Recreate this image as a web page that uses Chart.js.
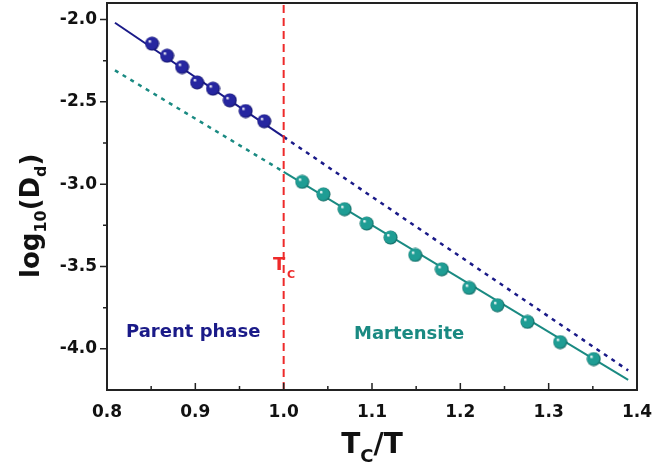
<!DOCTYPE html>
<html>
<head>
<meta charset="utf-8">
<script src="https://cdn.jsdelivr.net/npm/chart.js@4.4.0/dist/chart.umd.min.js"></script>
<style>
  body { margin: 0; background: #fff; }
  #wrap { width: 665px; height: 470px; position: relative; }
</style>
</head>
<body>
<div id="wrap"><canvas id="chart"></canvas></div>
<script>
// pontos medidos - fase mae (parent) e martensita
var parentX = [0.851, 0.868, 0.885, 0.902, 0.920, 0.939, 0.957, 0.978];
var parentY = [-2.147, -2.220, -2.289, -2.382, -2.420, -2.491, -2.556, -2.618];
var martX = [1.021, 1.045, 1.069, 1.094, 1.121, 1.149, 1.179, 1.210, 1.242, 1.276, 1.313, 1.351];
var martY = [-2.986, -3.062, -3.152, -3.239, -3.324, -3.430, -3.517, -3.630, -3.735, -3.836, -3.959, -4.062];

// retas de ajuste (solida) e extrapolacao (tracejada)
var parentFitX = [0.809, 1.0];
var parentFitY = [-2.020, -2.713];
var parentExtX = [1.0, 1.39];
var parentExtY = [-2.713, -4.131];
var martFitX = [1.0, 1.39];
var martFitY = [-2.925, -4.188];
var martExtX = [0.809, 1.0];
var martExtY = [-2.309, -2.925];

// linha Tc
var tcX = [1.0, 1.0];
var tcY = [-4.25, -1.9];

var xTicks = [0.8, 0.9, 1.0, 1.1, 1.2, 1.3, 1.4];
var yTicks = [-4.0, -3.5, -3.0, -2.5, -2.0];

var navy = '#1a1a88';
var teal = '#1a8a82';
var red = '#ee2a2a';

function pts(xs, ys) {
  var out = [];
  for (var i = 0; i < xs.length; i++) out.push({ x: xs[i], y: ys[i] });
  return out;
}

// bolinha com brilho
function esfera(cor, escuro) {
  var c = document.createElement('canvas');
  c.width = 15; c.height = 15;
  var g = c.getContext('2d');
  var grad = g.createRadialGradient(5, 5, 0.5, 7.5, 7.5, 7.5);
  grad.addColorStop(0, '#ffffff');
  grad.addColorStop(0.2, cor);
  grad.addColorStop(0.75, cor);
  grad.addColorStop(1, escuro);
  g.fillStyle = grad;
  g.beginPath();
  g.arc(7.5, 7.5, 7, 0, Math.PI * 2);
  g.fill();
  return c;
}

var bolaAzul = esfera('#2626a0', '#0c0c55');
var bolaVerde = esfera('#1f9d94', '#0b524d');

// eixos, ticks, textos
var extras = {
  id: 'extras',
  afterLayout: function (chart) {
    // topo da area do grafico colado em cima
    var ys = chart.scales.y;
    chart.chartArea.top = 3;
    ys.top = 3;
    ys.height = ys.bottom - ys.top;
    ys.configure();
  },
  afterDraw: function (chart) {
    var ctx = chart.ctx;
    var a = chart.chartArea;
    var xs = chart.scales.x;
    var ys = chart.scales.y;
    ctx.save();
    ctx.strokeStyle = '#222';
    ctx.lineWidth = 2;
    ctx.strokeRect(a.left, a.top, a.right - a.left, a.bottom - a.top);

    ctx.lineWidth = 1.5;
    ctx.beginPath();
    for (var i = 0; i < xTicks.length; i++) {
      var px = xs.getPixelForValue(xTicks[i]);
      ctx.moveTo(px, a.bottom); ctx.lineTo(px, a.bottom - 7);
      if (i < xTicks.length - 1) {
        var pm = xs.getPixelForValue((xTicks[i] + xTicks[i + 1]) / 2);
        ctx.moveTo(pm, a.bottom); ctx.lineTo(pm, a.bottom - 4);
      }
    }
    for (var j = 0; j < yTicks.length; j++) {
      var py = ys.getPixelForValue(yTicks[j]);
      ctx.moveTo(a.left, py); ctx.lineTo(a.left - 7, py);
      var vm = yTicks[j] - 0.25;
      if (vm > ys.min) {
        var pym = ys.getPixelForValue(vm);
        ctx.moveTo(a.left, pym); ctx.lineTo(a.left - 4, pym);
      }
    }
    var vt = yTicks[yTicks.length - 1] + 0.25;
    if (vt < ys.max) {
      var pyt = ys.getPixelForValue(vt);
      ctx.moveTo(a.left, pyt); ctx.lineTo(a.left - 4, pyt);
    }
    ctx.stroke();

    // titulo eixo x: T_C/T
    ctx.fillStyle = '#111';
    ctx.textBaseline = 'alphabetic';
    ctx.font = 'bold 28px "DejaVu Sans"';
    var w1 = ctx.measureText('T').width;
    ctx.font = 'bold 18px "DejaVu Sans"';
    var w2 = ctx.measureText('C').width;
    ctx.font = 'bold 28px "DejaVu Sans"';
    var w3 = ctx.measureText('/T').width;
    var x0 = 372 - (w1 + w2 + w3) / 2;
    ctx.fillText('T', x0, 453);
    ctx.font = 'bold 18px "DejaVu Sans"';
    ctx.fillText('C', x0 + w1, 462);
    ctx.font = 'bold 28px "DejaVu Sans"';
    ctx.fillText('/T', x0 + w1 + w2, 453);

    // titulo eixo y: log10(Dd)
    ctx.save();
    ctx.translate(39, 278);
    ctx.rotate(-Math.PI / 2);
    var partes = [['log', 26, 0], ['10', 16, 7], ['(D', 26, 0], ['d', 16, 7], [')', 26, 0]];
    var cx = 0;
    for (var k = 0; k < partes.length; k++) {
      ctx.font = 'bold ' + partes[k][1] + 'px "DejaVu Sans"';
      ctx.fillText(partes[k][0], cx, partes[k][2]);
      cx += ctx.measureText(partes[k][0]).width;
    }
    ctx.restore();

    // rotulos das fases
    ctx.font = 'bold 18px "DejaVu Sans"';
    ctx.textBaseline = 'middle';
    ctx.fillStyle = navy;
    ctx.fillText('Parent phase', 126, 332);
    ctx.fillStyle = teal;
    ctx.fillText('Martensite', 354, 334);

    // Tc
    ctx.fillStyle = red;
    ctx.textBaseline = 'alphabetic';
    ctx.font = 'bold 18px "DejaVu Sans"';
    ctx.fillText('T', 273, 270);
    ctx.font = 'bold 11px "DejaVu Sans"';
    ctx.fillText('C', 287, 278);
    ctx.restore();
  }
};

var ctx = document.getElementById('chart').getContext('2d');
var chart = new Chart(ctx, {
  type: 'scatter',
  data: {
    datasets: [
      { data: pts(parentX, parentY), pointStyle: bolaAzul, pointRadius: 7, showLine: false },
      { data: pts(martX, martY), pointStyle: bolaVerde, pointRadius: 7, showLine: false },
      { data: pts(tcX, tcY), showLine: true, borderColor: red, borderWidth: 2, borderDash: [8, 5], pointRadius: 0 },
      { data: pts(parentFitX, parentFitY), showLine: true, borderColor: navy, borderWidth: 2, pointRadius: 0 },
      { data: pts(parentExtX, parentExtY), showLine: true, borderColor: navy, borderWidth: 2.5, borderDash: [4, 5], pointRadius: 0 },
      { data: pts(martFitX, martFitY), showLine: true, borderColor: teal, borderWidth: 2, pointRadius: 0 },
      { data: pts(martExtX, martExtY), showLine: true, borderColor: teal, borderWidth: 2.5, borderDash: [4, 5], pointRadius: 0 }
    ]
  },
  options: {
    responsive: true,
    maintainAspectRatio: false,
    animation: false,
    layout: { padding: { top: 3, right: 28, left: 0, bottom: 0 } },
    plugins: { legend: { display: false }, tooltip: { enabled: false } },
    scales: {
      x: {
        type: 'linear', min: 0.8, max: 1.4,
        grid: { display: false, drawTicks: false },
        border: { display: false },
        afterBuildTicks: function (s) { s.ticks = xTicks.map(function (v) { return { value: v }; }); },
        afterFit: function (s) { s.height = 80; s.paddingLeft = 0; s.paddingRight = 0; },
        ticks: {
          padding: 12, color: '#111',
          font: { family: 'DejaVu Sans', size: 17, weight: 'bold' },
          callback: function (v) { return v.toFixed(1); }
        }
      },
      y: {
        type: 'linear', min: -4.25, max: -1.9,
        grid: { display: false, drawTicks: false },
        border: { display: false },
        afterBuildTicks: function (s) { s.ticks = yTicks.map(function (v) { return { value: v }; }); },
        afterFit: function (s) { s.width = 107; s.paddingTop = 0; s.paddingBottom = 0; },
        ticks: {
          padding: 10, color: '#111',
          font: { family: 'DejaVu Sans', size: 17, weight: 'bold' },
          callback: function (v) { return v.toFixed(1); }
        }
      }
    }
  },
  plugins: [extras]
});
</script>
</body>
</html>
